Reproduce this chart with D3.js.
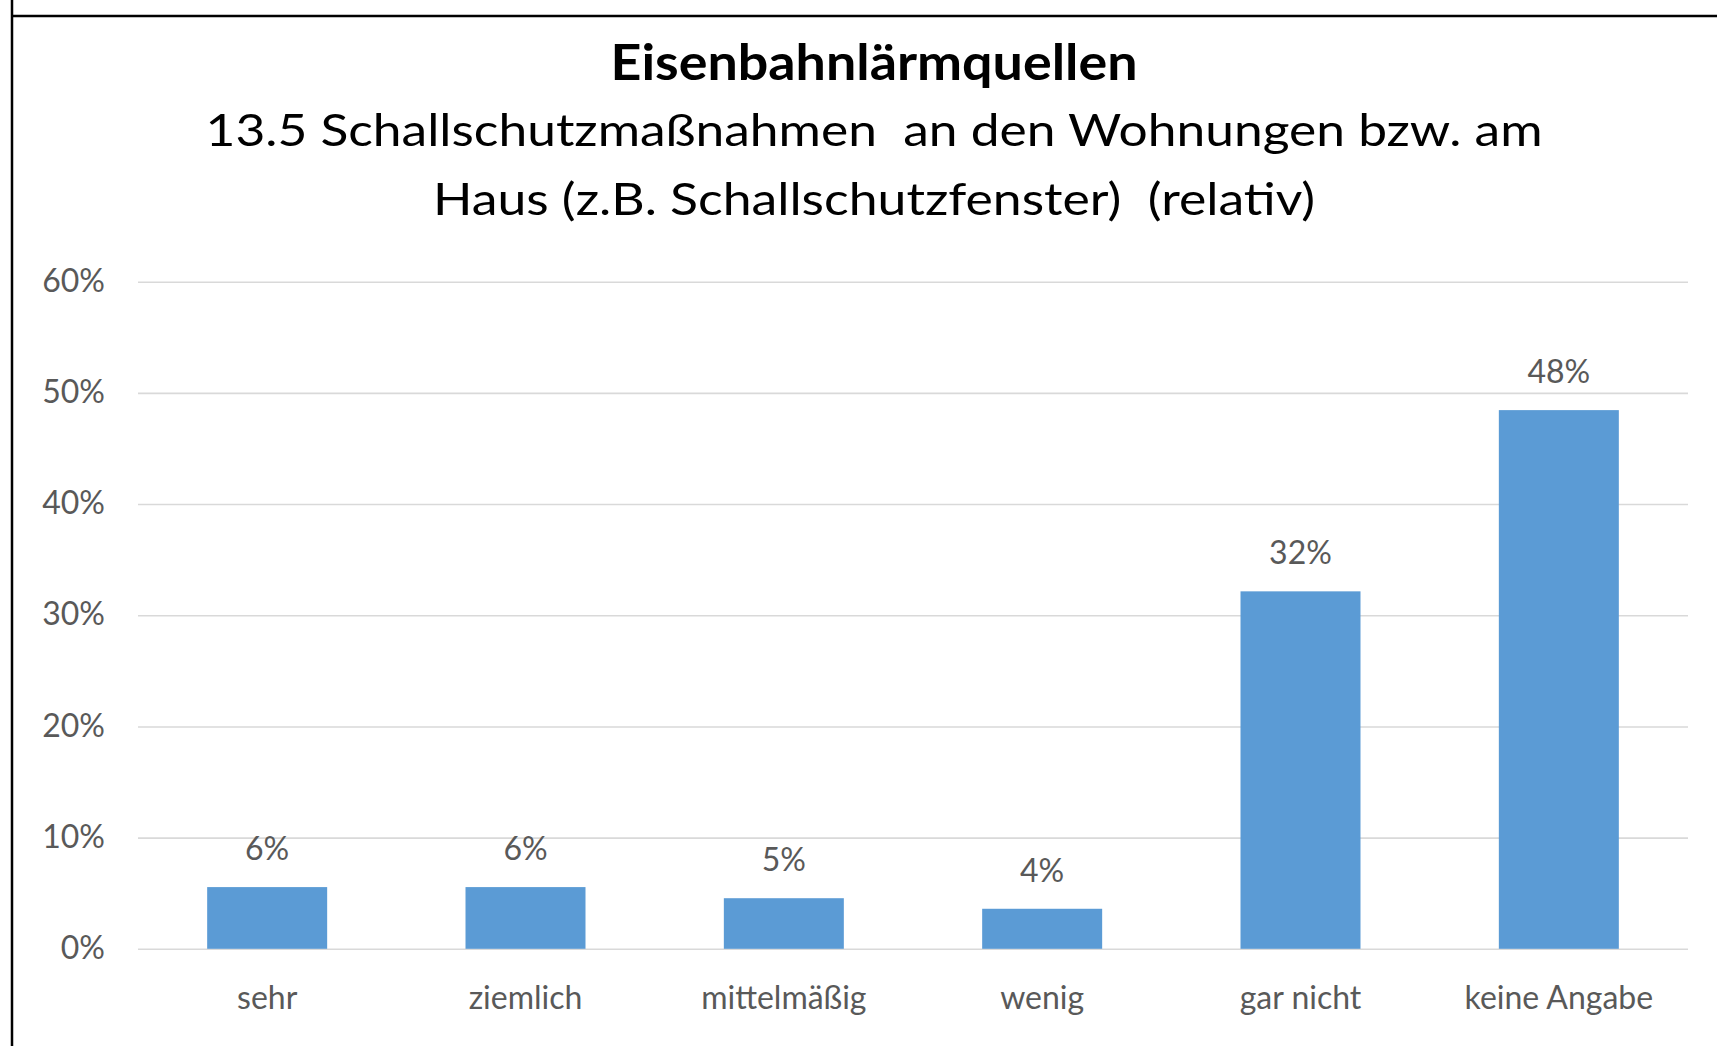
<!DOCTYPE html>
<html lang="de">
<head>
<meta charset="utf-8">
<title>Eisenbahnlärmquellen</title>
<script src="https://cdn.jsdelivr.net/npm/d3@7"></script>
<style>
  html, body { margin: 0; padding: 0; background: #ffffff; }
  svg { display: block; }
  text { font-family: Lato, "Noto Sans", sans-serif; white-space: pre; }
</style>
</head>
<body>
<svg id="chart" width="1717" height="1046"></svg>
<script>
// Survey answers (share of respondents)
const categories = ["sehr", "ziemlich", "mittelmäßig", "wenig", "gar nicht", "keine Angabe"];
const shares = [0.0555, 0.0555, 0.0455, 0.036, 0.3215, 0.4845];
const yTicks = [0, 0.1, 0.2, 0.3, 0.4, 0.5, 0.6];
const titleLine = "Eisenbahnlärmquellen";
const subtitleLines = [
  "13.5 Schallschutzmaßnahmen  an den Wohnungen bzw. am",
  "Haus (z.B. Schallschutzfenster)  (relativ)"
];

const W = 1717, H = 1046;
const plot = { left: 138, right: 1688, top: 281.7, bottom: 948.8 };
const barColor = "#5B9BD5";
const textGrey = "#595959";
const gridGrey = "#D9D9D9";
const axisFont = "32px";
const pct = d3.format(".0%");

const svg = d3.select("#chart");

// frame edges
svg.append("line").attr("x1", 12).attr("x2", 12).attr("y1", 0).attr("y2", H)
  .attr("stroke", "#000").attr("stroke-width", 2.5);
svg.append("line").attr("x1", 12).attr("x2", W).attr("y1", 16).attr("y2", 16)
  .attr("stroke", "#000").attr("stroke-width", 2.5);

// scales
const x = d3.scaleBand()
  .domain(categories)
  .range([plot.left, plot.right])
  .paddingInner(0.5355)
  .paddingOuter(0.5355 / 2);

const y = d3.scaleLinear()
  .domain([0, 0.6])
  .range([plot.bottom, plot.top]);

// horizontal gridlines with percentage labels
const yAxis = d3.axisLeft(y)
  .tickValues(yTicks)
  .tickFormat(pct)
  .tickSize(-(plot.right - plot.left))
  .tickPadding(33);

const gy = svg.append("g")
  .attr("transform", `translate(${plot.left},0)`)
  .call(yAxis);
gy.select(".domain").remove();
gy.selectAll(".tick line").attr("stroke", gridGrey).attr("stroke-width", 1.6);
gy.selectAll(".tick text")
  .attr("fill", textGrey)
  .style("font-size", axisFont)
  .attr("dy", "0.3em");

// bars
const rows = categories.map((c, i) => ({ c, v: shares[i] }));
svg.append("g").selectAll("rect")
  .data(rows)
  .join("rect")
  .attr("x", d => x(d.c))
  .attr("width", x.bandwidth())
  .attr("y", d => y(d.v))
  .attr("height", d => y(0) - y(d.v))
  .attr("fill", barColor);

// value labels
svg.append("g").selectAll("text")
  .data(rows)
  .join("text")
  .attr("x", d => x(d.c) + x.bandwidth() / 2)
  .attr("y", d => y(d.v) - 27)
  .attr("text-anchor", "middle")
  .attr("fill", textGrey)
  .style("font-size", axisFont)
  .text(d => pct(d.v));

// category axis
const xAxis = d3.axisBottom(x).tickSize(0).tickPadding(0);
const gx = svg.append("g")
  .attr("transform", `translate(0,${plot.bottom})`)
  .call(xAxis);
gx.select(".domain").remove();
gx.selectAll(".tick text")
  .attr("fill", textGrey)
  .style("font-size", axisFont)
  .attr("dy", null)
  .attr("y", 60);

// titles
const cx = 874;
svg.append("text")
  .attr("x", cx).attr("y", 80)
  .attr("text-anchor", "middle")
  .attr("fill", "#000")
  .style("font-size", "49px")
  .style("font-weight", "bold")
  .attr("textLength", 527)
  .attr("lengthAdjust", "spacingAndGlyphs")
  .text(titleLine);

const subWidths = [1337, 882];
svg.append("g").selectAll("text")
  .data(subtitleLines)
  .join("text")
  .attr("x", cx)
  .attr("y", (d, i) => 146 + i * 69)
  .attr("text-anchor", "middle")
  .attr("fill", "#000")
  .style("font-size", "45px")
  .attr("textLength", (d, i) => subWidths[i])
  .attr("lengthAdjust", "spacingAndGlyphs")
  .text(d => d);
</script>
</body>
</html>
